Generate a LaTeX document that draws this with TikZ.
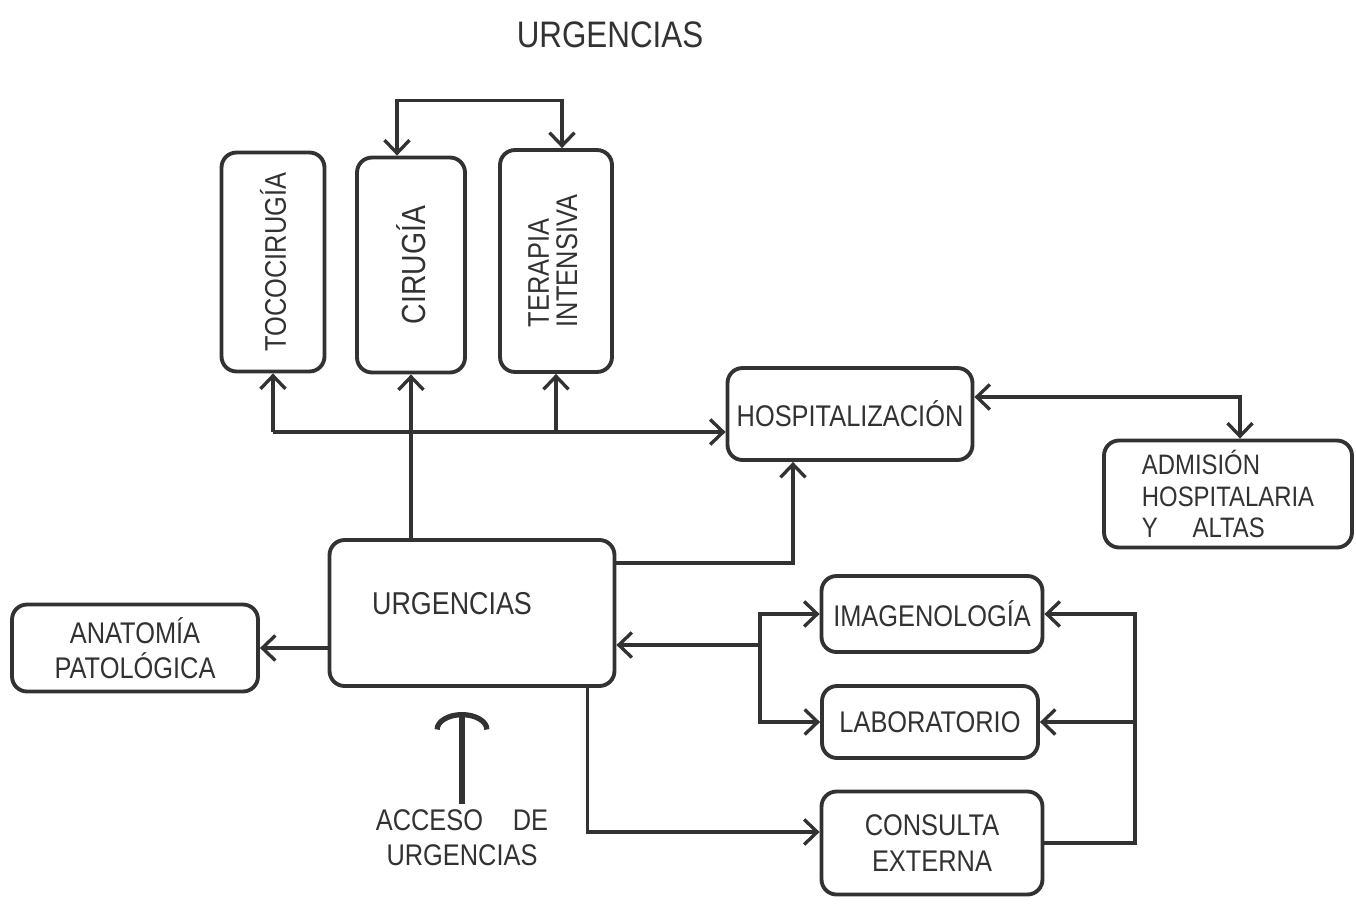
\documentclass[tikz,border=0pt]{standalone}
\usepackage{fontspec}
\setmainfont{Liberation Sans}[FakeStretch=0.85]
\usetikzlibrary{arrows.meta,positioning,calc}
\definecolor{skInk}{RGB}{50,50,50}

\begin{document}
\begin{tikzpicture}[
  x=0.02cm, y=-0.02cm,
  font=\fontsize{17}{20}\selectfont,
  every node/.style={text=skInk},
  box/.style={draw=skInk, line width=2.2pt, rounded corners=0.3cm, align=center},
  arr/.style={draw=skInk, line width=1.9pt, -{Straight Barb[length=2.6mm,width=5mm]}},
  arrs/.style={arr, {Straight Barb[length=2.6mm,width=5mm]}-{Straight Barb[length=2.6mm,width=5mm]}}
]
\useasboundingbox (0,0) rectangle (1356,903);
% title
\node[font=\fontsize{21}{24}\selectfont] (title) at (610,35) {URGENCIAS};

% upper services (text runs upwards)
\node[box, minimum width=2.06cm, minimum height=4.38cm] (toco) at (273,262) {\rotatebox{90}{TOCOCIRUGÍA}};
\node[box, minimum width=2.16cm, minimum height=4.30cm] (cir) at (411,265) {\rotatebox{90}{\fontsize{19}{20}\selectfont CIRUGÍA}};
\node[box, minimum width=2.24cm, minimum height=4.44cm] (ter) at (556,261)
  {\rotatebox{90}{\begin{tabular}{@{}l@{}}TERAPIA\\[-4pt]INTENSIVA\end{tabular}}};

% right column
\node[box, minimum width=4.90cm, minimum height=1.84cm] (hosp) at (850,414) {HOSPITALIZACIÓN};
\node[box, minimum width=4.96cm, minimum height=2.14cm, align=left, inner sep=2pt,
  font=\fontsize{16}{18}\selectfont] (adm) at (1228,494) {ADMISIÓN\\HOSPITALARIA\\Y\quad\ ALTAS};

% centre
\node[box, minimum width=5.70cm, minimum height=2.92cm] (urg) at (472,613) {};
\node[font=\fontsize{18}{20}\selectfont] (urgtxt) at (452,604) {URGENCIAS};
\node[box, minimum width=4.92cm, minimum height=1.74cm] (anat) at (135,648) {ANATOMÍA\\PATOLÓGICA};

% support services
\node[box, minimum width=4.42cm, minimum height=1.52cm] (img) at (932,614) {IMAGENOLOGÍA};
\node[box, minimum width=4.32cm, minimum height=1.44cm] (lab) at (930,722) {LABORATORIO};
\node[box, minimum width=4.42cm, minimum height=2.06cm] (cons) at (932,843) {CONSULTA\\EXTERNA};

% access
\node[align=center] (acc) at (462,838) {ACCESO\quad DE\\URGENCIAS};
\coordinate (acctip) at (462,712);

% connectors
\draw[arrs] ($(cir.north)+(-14,0)$) -- ++(0,-55) -| ($(ter.north)+(6,0)$);
\coordinate (bus) at (273,432);
\foreach \n in {toco,ter}
  \draw[arr] (bus -| \n.south) -- (\n.south);
\draw[arr] (bus) -- (bus -| hosp.west);
\draw[arr] (urg.north -| cir.south) -- (cir.south);
\draw[arrs] ($(hosp.east)+(0,-17)$) -| ($(adm.north)+(12,0)$);
\draw[arr] ($(urg.north east)+(0,25)$) -| ($(hosp.south)+(-57,0)$);
\draw[arr] (urg.west |- anat.east) -- (anat.east);
\coordinate (split) at (760,645);
\draw[arr] (split) -- (split -| urg.east);
\draw[arr] (split) |- (img.west);
\draw[arr] (split) |- (lab.west);
\draw[arr] ($(urg.south east)+(-29,0)$) |- ($(cons.west)+(0,-11)$);
\coordinate (back) at (1135,843);
\draw[arr] (cons.east) -| (back |- img.east) -- (img.east);
\draw[arr] (back |- lab.east) -- (lab.east);
\draw[draw=skInk, line width=3pt, -{Arc Barb[length=3.5mm,width=11mm]}] (acc.north) -- (acctip);
\end{tikzpicture}
\end{document}
